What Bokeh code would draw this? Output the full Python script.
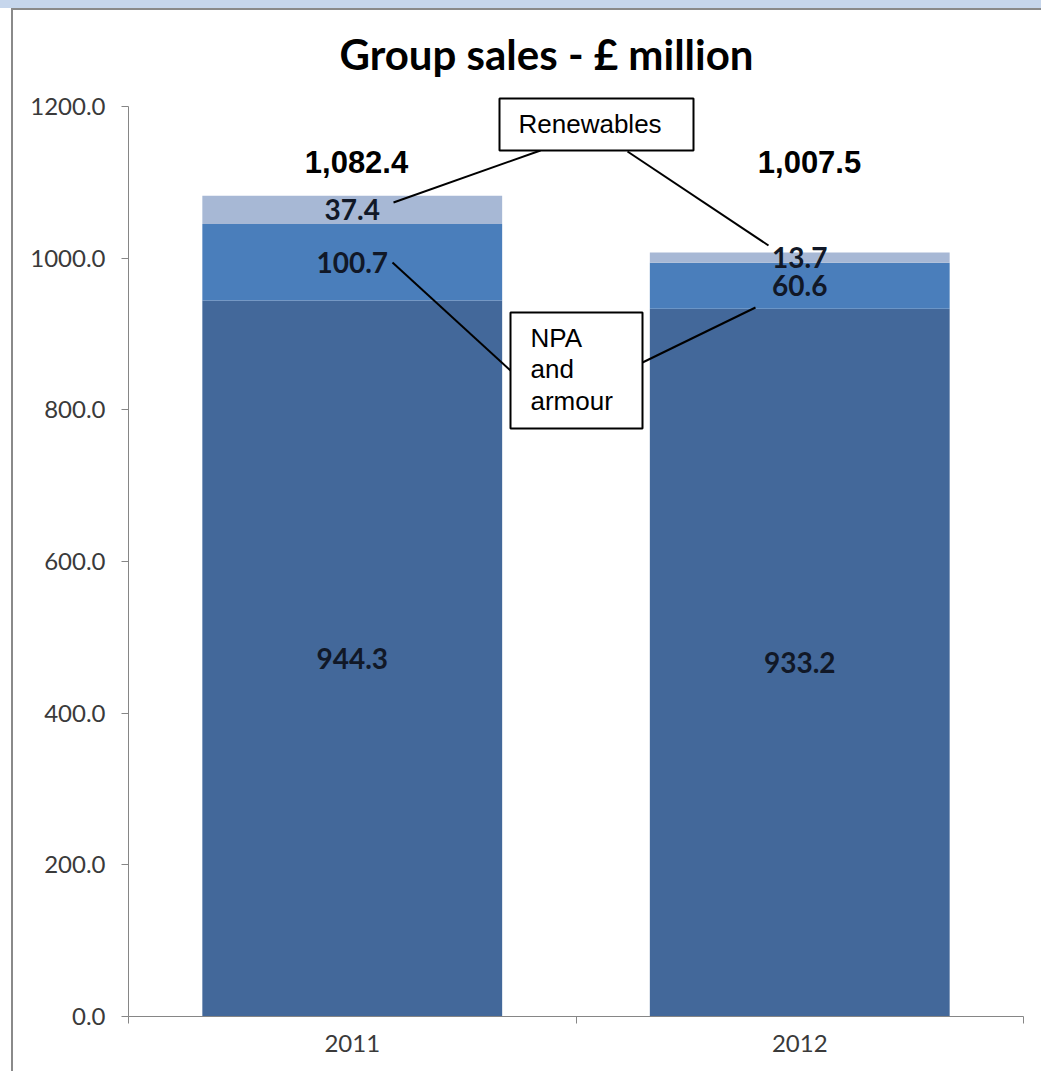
from bokeh.plotting import figure
from bokeh.models import (Range1d, FixedTicker, PrintfTickFormatter, BoxAnnotation,
                          Label, Arrow, ColumnDataSource)
from bokeh.embed import file_html
from bokeh.resources import INLINE

# ---- data ----
years = ["2011", "2012"]
base_sales = [944.3, 933.2]
npa_armour = [100.7, 60.6]
renewables = [37.4, 13.7]
series_names = ["base_sales", "npa_armour", "renewables"]
series_colors = ["#43689A", "#4A7EBB", "#A7B8D5"]
y_ticks = [0, 200, 400, 600, 800, 1000, 1200]
title_text = "Group sales - £ million"

# ---- geometry helpers ----
PX_PER_UNIT = 910.0 / 1200.0   # vertical scale
X_PX_PER_UNIT = 447.5


def xd(px):
    return (px - 128) / X_PX_PER_UNIT


def yd(py):
    return (1016 - py) / PX_PER_UNIT


x_pos = [i + 0.5 for i in range(len(years))]
source = ColumnDataSource(dict(x=x_pos, years=years, base_sales=base_sales,
                               npa_armour=npa_armour, renewables=renewables))

p = figure(width=1041, height=1071, x_range=Range1d(0, 2), y_range=Range1d(0, yd(12)),
           output_backend="svg", toolbar_location=None,
           min_border_left=128, min_border_right=18, min_border_top=12, min_border_bottom=55)
p.outline_line_color = None
p.grid.visible = False
p.background_fill_color = "white"
p.border_fill_color = None
p.styles = {
    "background": ("linear-gradient(#C6D6EC, #C6D6EC) 0px 0px / 100% 8px no-repeat, "
                   "linear-gradient(#8a8a8a, #8a8a8a) 11px 8px / 100% 2px no-repeat, "
                   "linear-gradient(#8a8a8a, #8a8a8a) 11px 8px / 2px 100% no-repeat, "
                   "white"),
}

p.vbar_stack(series_names, x="x", width=0.67, color=series_colors, source=source, line_color=None)

# ---- axes ----
ax = p.xaxis[0]
ax.ticker = FixedTicker(ticks=x_pos, minor_ticks=list(range(len(years) + 1)))
ax.major_label_overrides = {xp: yr for xp, yr in zip(x_pos, years)}
ax.major_tick_out = 0
ax.major_tick_in = 0
ax.minor_tick_out = 7
ax.minor_tick_in = 0
ax.minor_tick_line_color = "#868686"
ax.axis_line_color = "#868686"
ax.major_label_standoff = 11
ax.major_label_text_font = "Lato"
ax.major_label_text_font_size = "24px"
ax.major_label_text_color = "#3a3a3a"

ay = p.yaxis[0]
ay.ticker = FixedTicker(ticks=y_ticks)
ay.formatter = PrintfTickFormatter(format="%.1f")
ay.bounds = (0, 1200)
ay.major_tick_out = 7
ay.major_tick_in = 0
ay.minor_tick_line_color = None
ay.major_tick_line_color = "#868686"
ay.axis_line_color = "#868686"
ay.major_label_standoff = 16
ay.major_label_text_font = "Lato"
ay.major_label_text_font_size = "24px"
ay.major_label_text_color = "#3a3a3a"

# ---- segment value labels ----
lx, ly, lt = [], [], []
for i in range(len(years)):
    bottom = 0.0
    for vals in (base_sales, npa_armour, renewables):
        v = vals[i]
        lx.append(x_pos[i])
        ly.append(bottom + v / 2.0)
        lt.append(f"{v:.1f}")
        bottom += v
lab_src = ColumnDataSource(dict(x=lx, y=ly, text=lt))
p.text(x="x", y="y", text="text", source=lab_src, text_align="center", text_baseline="middle",
       text_font={"value": "Lato"}, text_font_style="bold", text_font_size="28px",
       text_color="#111827")

# ---- totals ----
totals = [a + b + c for a, b, c in zip(base_sales, npa_armour, renewables)]
total_x_px = [356, 809]
for t, txp in zip(totals, total_x_px):
    p.add_layout(Label(x=xd(txp), y=yd(161), text=f"{t:,.1f}", text_align="center",
                       text_baseline="middle", text_font="Liberation Sans",
                       text_font_style="bold", text_font_size="31px", text_color="black"))

# ---- title ----
p.add_layout(Label(x=xd(546), y=yd(53), text=title_text, text_align="center",
                   text_baseline="middle", text_font="Lato", text_font_style="bold",
                   text_font_size="42px", text_color="black"))

# ---- callouts ----
def seg(x0, y0, x1, y1):
    p.add_layout(Arrow(end=None, x_start=xd(x0), y_start=yd(y0), x_end=xd(x1), y_end=yd(y1),
                       line_color="black", line_width=2))

seg(540, 150, 393, 202)
seg(627, 151, 768, 245)
seg(510, 370, 392, 262)
seg(642, 362, 755, 307)

p.add_layout(BoxAnnotation(left=xd(499), right=xd(693), top=yd(98), bottom=yd(150),
                           fill_color="white", fill_alpha=1, line_color="black",
                           line_alpha=1, line_width=2))
p.add_layout(BoxAnnotation(left=xd(510), right=xd(642), top=yd(312), bottom=yd(428),
                           fill_color="white", fill_alpha=1, line_color="black",
                           line_alpha=1, line_width=2))
p.add_layout(Label(x=xd(518), y=yd(123), text="Renewables", text_baseline="middle",
                   text_font="Liberation Sans", text_font_size="26px", text_color="black"))
p.add_layout(Label(x=xd(530), y=yd(322), text="NPA\nand\narmour", text_baseline="top",
                   text_line_height=1.05,
                   text_font="Liberation Sans", text_font_size="26px", text_color="black"))

open("out.html", "w").write(file_html(p, INLINE))
